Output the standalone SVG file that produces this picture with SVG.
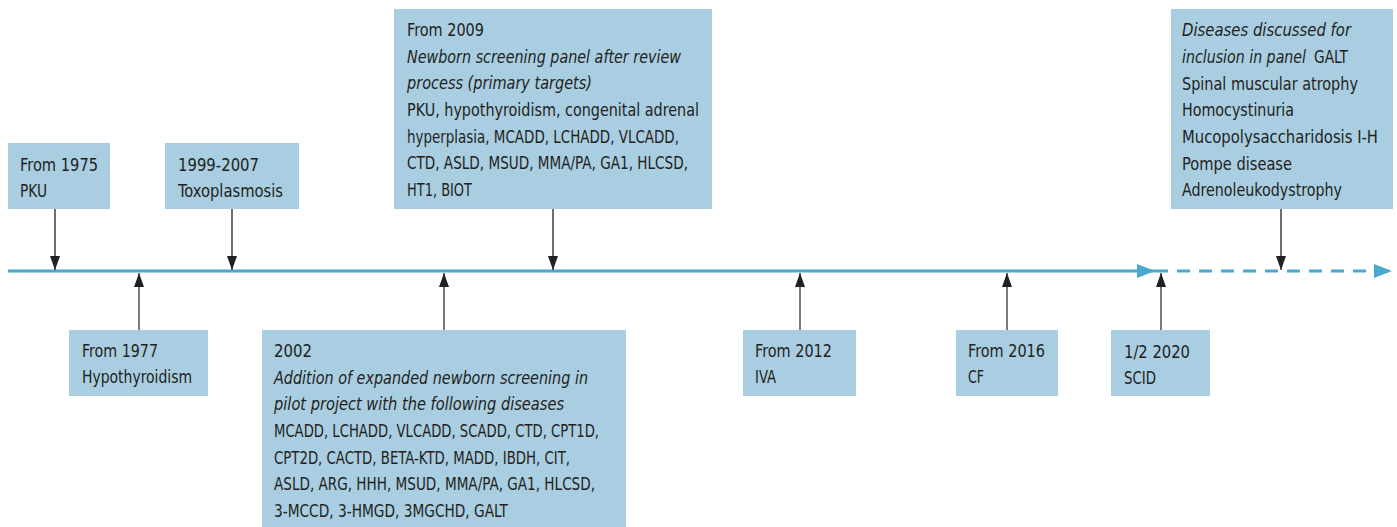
<svg xmlns="http://www.w3.org/2000/svg" width="1397" height="527" viewBox="0 0 1397 527">
<style>
.box{fill:#a9cde1}
text{font-family:"DejaVu Sans Condensed","Liberation Sans Narrow","Liberation Sans",sans-serif;font-stretch:condensed;font-size:17px;fill:#231f20}
.i{font-style:italic}
.tl{stroke:#4aa8cf;stroke-width:3;fill:none}
.dn{stroke:#231f20;stroke-width:1.3}
.up{stroke:#7a7a7a;stroke-width:2}
</style>
<defs>
<marker id="ahup" viewBox="0 0 14 10" refX="14" refY="5" markerWidth="14" markerHeight="10" markerUnits="userSpaceOnUse" orient="auto"><path d="M0,0 L14,5 L0,10 z" fill="#231f20"/></marker>
<marker id="tla" viewBox="0 0 18 14" refX="18" refY="7" markerWidth="18" markerHeight="14" markerUnits="userSpaceOnUse" orient="auto"><path d="M0,0 L18,7 L0,14 z" fill="#4aa8cf"/></marker>
</defs>
<g id="connectors">
<line class="tl" x1="8" y1="271" x2="1155" y2="271" marker-end="url(#tla)"/>
<line class="tl" x1="1155" y1="271" x2="1392" y2="271" stroke-dasharray="13 9" marker-end="url(#tla)"/>
<line class="dn" x1="55" y1="209" x2="55" y2="270" marker-end="url(#ahup)"/>
<line class="dn" x1="232" y1="209" x2="232" y2="270" marker-end="url(#ahup)"/>
<line class="dn" x1="553" y1="209" x2="553" y2="270" marker-end="url(#ahup)"/>
<line class="dn" x1="1281" y1="209" x2="1281" y2="270" marker-end="url(#ahup)"/>
<line class="up" x1="139" y1="330" x2="139" y2="273" marker-end="url(#ahup)"/>
<line class="up" x1="444" y1="330" x2="444" y2="273" marker-end="url(#ahup)"/>
<line class="up" x1="800" y1="330" x2="800" y2="273" marker-end="url(#ahup)"/>
<line class="up" x1="1007" y1="330" x2="1007" y2="273" marker-end="url(#ahup)"/>
<line class="up" x1="1161" y1="330" x2="1161" y2="273" marker-end="url(#ahup)"/>
</g>
<g id="n1975">
<rect class="box" x="8" y="143" width="102" height="66"/>
<text x="20" y="171" textLength="78" lengthAdjust="spacingAndGlyphs">From 1975</text>
<text x="20" y="197" textLength="27" lengthAdjust="spacingAndGlyphs">PKU</text>
</g>
<g id="n1999">
<rect class="box" x="165" y="143" width="134" height="66"/>
<text x="178" y="171" textLength="81" lengthAdjust="spacingAndGlyphs">1999-2007</text>
<text x="178" y="197" textLength="105" lengthAdjust="spacingAndGlyphs">Toxoplasmosis</text>
</g>
<g id="n2009">
<rect class="box" x="394" y="9" width="318" height="200"/>
<text x="407" y="36" textLength="77" lengthAdjust="spacingAndGlyphs">From 2009</text>
<text x="407" y="63" class="i" textLength="274" lengthAdjust="spacingAndGlyphs">Newborn screening panel after review</text>
<text x="407" y="89" class="i" textLength="185" lengthAdjust="spacingAndGlyphs">process (primary targets)</text>
<text x="407" y="116" textLength="292" lengthAdjust="spacingAndGlyphs">PKU, hypothyroidism, congenital adrenal</text>
<text x="407" y="143" textLength="272" lengthAdjust="spacingAndGlyphs">hyperplasia, MCADD, LCHADD, VLCADD,</text>
<text x="407" y="169" textLength="281" lengthAdjust="spacingAndGlyphs">CTD, ASLD, MSUD, MMA/PA, GA1, HLCSD,</text>
<text x="407" y="196" textLength="65" lengthAdjust="spacingAndGlyphs">HT1, BIOT</text>
</g>
<g id="nfuture">
<rect class="box" x="1171" y="9" width="222" height="200"/>
<text x="1182" y="36" class="i" textLength="169" lengthAdjust="spacingAndGlyphs">Diseases discussed for</text>
<text x="1182" y="63" class="i" textLength="124" lengthAdjust="spacingAndGlyphs">inclusion in panel</text>
<text x="1314" y="63" textLength="34" lengthAdjust="spacingAndGlyphs">GALT</text>
<text x="1182" y="90" textLength="176" lengthAdjust="spacingAndGlyphs">Spinal muscular atrophy</text>
<text x="1182" y="116" textLength="112" lengthAdjust="spacingAndGlyphs">Homocystinuria</text>
<text x="1182" y="143" textLength="196" lengthAdjust="spacingAndGlyphs">Mucopolysaccharidosis I-H</text>
<text x="1182" y="170" textLength="110" lengthAdjust="spacingAndGlyphs">Pompe disease</text>
<text x="1182" y="196" textLength="160" lengthAdjust="spacingAndGlyphs">Adrenoleukodystrophy</text>
</g>
<g id="n1977">
<rect class="box" x="69" y="330" width="139" height="66"/>
<text x="82" y="357" textLength="76" lengthAdjust="spacingAndGlyphs">From 1977</text>
<text x="82" y="383" textLength="110" lengthAdjust="spacingAndGlyphs">Hypothyroidism</text>
</g>
<g id="n2002">
<rect class="box" x="262" y="330" width="364" height="197"/>
<text x="274" y="357" textLength="38" lengthAdjust="spacingAndGlyphs">2002</text>
<text x="274" y="384" class="i" textLength="314" lengthAdjust="spacingAndGlyphs">Addition of expanded newborn screening in</text>
<text x="274" y="410" class="i" textLength="290" lengthAdjust="spacingAndGlyphs">pilot project with the following diseases</text>
<text x="274" y="437" textLength="325" lengthAdjust="spacingAndGlyphs">MCADD, LCHADD, VLCADD, SCADD, CTD, CPT1D,</text>
<text x="274" y="464" textLength="296" lengthAdjust="spacingAndGlyphs">CPT2D, CACTD, BETA-KTD, MADD, IBDH, CIT,</text>
<text x="274" y="490" textLength="321" lengthAdjust="spacingAndGlyphs">ASLD, ARG, HHH, MSUD, MMA/PA, GA1, HLCSD,</text>
<text x="274" y="517" textLength="234" lengthAdjust="spacingAndGlyphs">3-MCCD, 3-HMGD, 3MGCHD, GALT</text>
</g>
<g id="n2012">
<rect class="box" x="743" y="330" width="113" height="66"/>
<text x="755" y="357" textLength="77" lengthAdjust="spacingAndGlyphs">From 2012</text>
<text x="755" y="383" textLength="21" lengthAdjust="spacingAndGlyphs">IVA</text>
</g>
<g id="n2016">
<rect class="box" x="956" y="330" width="102" height="66"/>
<text x="968" y="357" textLength="77" lengthAdjust="spacingAndGlyphs">From 2016</text>
<text x="968" y="383" textLength="16" lengthAdjust="spacingAndGlyphs">CF</text>
</g>
<g id="n2020">
<rect class="box" x="1111" y="330" width="99" height="66"/>
<text x="1124" y="358" textLength="66" lengthAdjust="spacingAndGlyphs">1/2 2020</text>
<text x="1124" y="384" textLength="32" lengthAdjust="spacingAndGlyphs">SCID</text>
</g>
</svg>
